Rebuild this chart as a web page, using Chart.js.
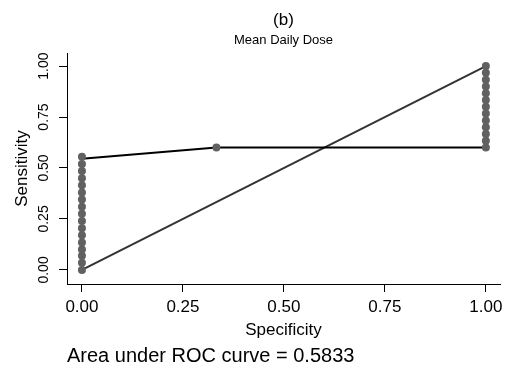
<!DOCTYPE html>
<html>
<head>
<meta charset="utf-8">
<script src="https://cdn.jsdelivr.net/npm/chart.js@4"></script>
<style>
  html, body { margin: 0; padding: 0; background: #fff; }
  #box { position: relative; width: 507px; height: 372px; }
  #auc {
    position: absolute; left: 67px; top: 345px;
    font: 20px "Liberation Sans", Arial, sans-serif; line-height: 20px; color: #000;
  }
</style>
</head>
<body>
<div id="box">
  <canvas id="grafico" width="507" height="372"></canvas>
  <div id="auc"></div>
</div>
<script>
// ticks
const tickValues = [0, 0.25, 0.5, 0.75, 1];
const tickLabels = ["0.00", "0.25", "0.50", "0.75", "1.00"];

// ROC points (specificity, sensitivity)
const pontosEspecificidade = [0, 0, 0, 0, 0, 0, 0, 0, 0, 0, 0, 0, 0, 0, 0, 0, 0,
    0.333,
    1, 1, 1, 1, 1, 1, 1, 1, 1, 1, 1, 1, 1];
const pontosSensibilidade = [0.00, 0.035, 0.07, 0.10, 0.135, 0.17, 0.205, 0.24, 0.275,
    0.31, 0.345, 0.38, 0.415, 0.45, 0.485, 0.52, 0.555,
    0.60,
    0.60, 0.633, 0.667, 0.70, 0.733, 0.767, 0.80, 0.833, 0.867, 0.90, 0.933, 0.967, 1.00];

// curve line
const curvaEspecificidade = [0, 0.333, 1];
const curvaSensibilidade = [0.545, 0.60, 0.60];

// reference diagonal
const diagEspecificidade = [0, 1];
const diagSensibilidade = [0, 1];

const auc = 0.5833;

const fonte = '"Liberation Sans", Arial, sans-serif';
Chart.defaults.font.family = fonte;
Chart.defaults.color = "#000";

function xy(xs, ys) {
    return xs.map((x, i) => ({ x: x, y: ys[i] }));
}

function fixarTicks(scale) {
    scale.ticks = tickValues.map(v => ({ value: v }));
}

document.getElementById("auc").textContent = "Area under ROC curve = " + auc;

const ctx = document.getElementById("grafico").getContext("2d");
new Chart(ctx, {
    type: "scatter",
    data: {
        datasets: [
            {
                data: xy(pontosEspecificidade, pontosSensibilidade),
                pointRadius: 4,
                pointBackgroundColor: "#616161",
                pointBorderWidth: 0,
                showLine: false
            },
            {
                data: xy(curvaEspecificidade, curvaSensibilidade),
                borderColor: "#000",
                borderWidth: 2,
                pointRadius: 0,
                showLine: true
            },
            {
                data: xy(diagEspecificidade, diagSensibilidade),
                borderColor: "#333",
                borderWidth: 2,
                pointRadius: 0,
                showLine: true
            }
        ]
    },
    options: {
        responsive: false,
        animation: false,
        layout: { padding: { left: 0, right: 7, top: 0, bottom: 28 } },
        plugins: {
            legend: { display: false },
            tooltip: { enabled: false },
            title: {
                display: true,
                text: "(b)",
                fullSize: false,
                font: { size: 17, weight: "normal" },
                padding: { top: 10, bottom: 0 }
            },
            subtitle: {
                display: true,
                text: "Mean Daily Dose",
                fullSize: false,
                font: { size: 13 },
                padding: { top: 2, bottom: 5 }
            }
        },
        scales: {
            x: {
                type: "linear",
                min: -0.037,
                max: 1.035,
                afterBuildTicks: fixarTicks,
                afterFit: function (scale) {
                    scale.height = 60;
                    scale.paddingLeft = 0;
                    scale.paddingRight = 0;
                },
                grid: { drawOnChartArea: false, drawTicks: true, tickLength: 8, color: "#000" },
                border: { display: true, color: "#000", width: 1 },
                ticks: {
                    font: { size: 17 },
                    padding: 5,
                    maxRotation: 0,
                    callback: function (value) {
                        return tickLabels[tickValues.indexOf(value)];
                    }
                },
                title: {
                    display: true,
                    text: "Specificity",
                    font: { size: 17 },
                    padding: { top: 0, bottom: 3 }
                }
            },
            y: {
                type: "linear",
                min: -0.069,
                max: 1.064,
                afterBuildTicks: fixarTicks,
                afterFit: function (scale) {
                    scale.width = 67;
                    scale.paddingTop = 0;
                    scale.paddingBottom = 0;
                },
                grid: { drawOnChartArea: false, drawTicks: true, tickLength: 8, color: "#000" },
                border: { display: true, color: "#000", width: 1 },
                ticks: {
                    font: { size: 14 },
                    padding: 1,
                    minRotation: 90,
                    maxRotation: 90,
                    crossAlign: "center",
                    callback: function (value) {
                        return tickLabels[tickValues.indexOf(value)];
                    }
                },
                title: {
                    display: true,
                    text: "Sensitivity",
                    font: { size: 17 },
                    padding: { top: 12, bottom: 0 }
                }
            }
        }
    }
});
</script>
</body>
</html>
